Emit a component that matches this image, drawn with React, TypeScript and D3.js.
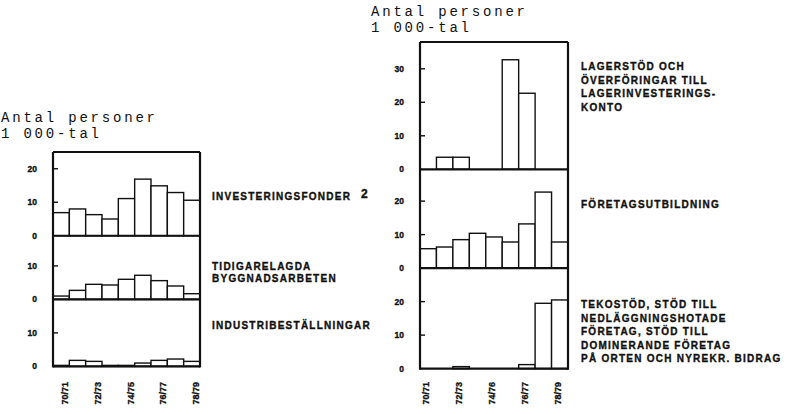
import React from 'react';
import * as d3 from 'd3';

const categories = ['70/71', '71/72', '72/73', '73/74', '74/75', '75/76', '76/77', '77/78', '78/79'];
const tickCategories = ['70/71', '72/73', '74/75', '76/77', '78/79'];
const leftTickLabels = ['70/71', '72/73', '74/75', '76/77', '78/79'];
const rightTickLabels = ['70/71', '72/73', '74/76', '76/77', '78/79'];

const investeringsfonder = [6.9, 8.0, 6.3, 5.0, 11.1, 16.9, 14.9, 12.9, 10.6];
const tidigarelagda = [1.0, 2.7, 4.5, 4.3, 6.0, 7.2, 5.6, 4.0, 1.7];
const industribestallningar = [0.3, 1.8, 1.5, 0.3, 0.3, 1.0, 1.8, 2.2, 1.5];
const lagerstod = [0, 3.6, 3.6, 0, 0, 32.7, 22.7, 0, 0];
const foretagsutbildning = [5.8, 6.3, 8.5, 10.4, 9.3, 7.8, 13.2, 22.7, 7.8];
const tekostod = [0, 0, 0.6, 0, 0, 0, 1.2, 19.5, 20.5];

const leftNames = [['INVESTERINGSFONDER'], ['TIDIGARELAGDA', 'BYGGNADSARBETEN'], ['INDUSTRIBESTÄLLNINGAR']];
const rightNames = [
  ['LAGERSTÖD OCH', 'ÖVERFÖRINGAR TILL', 'LAGERINVESTERINGS-', 'KONTO'],
  ['FÖRETAGSUTBILDNING'],
  ['TEKOSTÖD, STÖD TILL', 'NEDLÄGGNINGSHOTADE', 'FÖRETAG, STÖD TILL', 'DOMINERANDE FÖRETAG', 'PÅ ORTEN OCH NYREKR. BIDRAG'],
];
const leftTicks = [[0, 10, 20], [0, 10], [0, 10]];
const rightTicks = [[0, 10, 20, 30], [0, 10, 20], [0, 10, 20]];
const leftMax = [25, 19, 20];
const rightMax = [38, 29.5, 30];
const unitLabel = ['Antal personer', '1 000-tal'];
const footnoteMark = '2';

const K = 3.35; // px per unit
const LABEL_FONT = 'Liberation Sans, Arial, sans-serif';
const MONO = 'Liberation Mono, DejaVu Sans Mono, monospace';
const INK = '#111';

type ChartProps = {
  x0: number; x1: number; top: number;
  series: number[][]; maxes: number[]; ticks: number[][];
  names: string[][]; nameX: number; nameY: number[]; nameGap: number;
  tickLabels: string[]; labelOffset: number;
  unitX: number; unitY: number;
  sup?: boolean;
};

function Chart(p: ChartProps) {
  const x = d3.scaleBand<string>().domain(categories).range([p.x0, p.x1]).paddingInner(0).paddingOuter(0);
  let cur = p.top;
  const panels = p.maxes.map((m, i) => {
    const t = cur;
    const z = t + m * K;
    cur = z;
    const y = d3.scaleLinear().domain([0, m]).range([z, t]);
    return { y, top: t, zero: z, data: p.series[i], ticks: p.ticks[i], names: p.names[i], nameY: p.nameY[i] };
  });
  const bottom = cur;
  const bold = { fontFamily: LABEL_FONT, fontWeight: 'bold' as const, fill: INK, stroke: INK, strokeWidth: 0.35 };
  return (
    <g>
      <text x={p.unitX} y={p.unitY} fontFamily={MONO} fontSize={14} letterSpacing={2.8} fill={INK}>{unitLabel[0]}</text>
      <text x={p.unitX} y={p.unitY + 16} fontFamily={MONO} fontSize={14} letterSpacing={2.8} fill={INK}>{unitLabel[1]}</text>
      {panels.map((pn, i) => (
        <g key={i}>
          {pn.data.map((v, j) => v > 0 ? (
            <rect key={j} x={x(categories[j])!} width={x.bandwidth()} y={pn.y(v)} height={pn.zero - pn.y(v)}
              fill="white" stroke={INK} strokeWidth={1.4} />
          ) : null)}
          <line x1={p.x0} x2={p.x1} y1={pn.zero} y2={pn.zero} stroke={INK} strokeWidth={2.2} />
          {pn.ticks.map(t => (
            <g key={t}>
              {t > 0 && <line x1={p.x0} x2={p.x0 + 5} y1={pn.y(t)} y2={pn.y(t)} stroke={INK} strokeWidth={1.4} />}
              <text x={p.x0 - 16} y={pn.y(t)} dy="0.35em" textAnchor="end" fontSize={8.5} {...bold}>{t}</text>
            </g>
          ))}
          {pn.names.map((n, k) => (
            <text key={k} x={p.nameX} y={pn.nameY + k * p.nameGap} fontSize={10} letterSpacing={1.25} {...bold}>{n}</text>
          ))}
        </g>
      ))}
      <line x1={p.x0} x2={p.x1} y1={p.top} y2={p.top} stroke={INK} strokeWidth={2.2} />
      <line x1={p.x0} x2={p.x0} y1={p.top} y2={bottom + 1} stroke={INK} strokeWidth={2.2} />
      <line x1={p.x1} x2={p.x1} y1={p.top} y2={bottom + 1} stroke={INK} strokeWidth={2.2} />
      {tickCategories.map((c, i) => {
        const cx = x(c)! + x.bandwidth() / 2 + p.labelOffset;
        return (
          <text key={c} transform={`translate(${cx},382) rotate(-90)`} dy="0.35em" textAnchor="end"
            fontSize={9} {...bold}>{p.tickLabels[i]}</text>
        );
      })}
      {p.sup && (
        <text x={361} y={198} fontSize={12} {...bold}>{footnoteMark}</text>
      )}
    </g>
  );
}

export default function App() {
  return (
    <svg width={787} height={414} style={{ position: 'absolute', left: 0, top: 0, background: 'white' }}>
      <rect width={787} height={414} fill="white" />
      <Chart x0={53} x1={200} top={152}
        series={[investeringsfonder, tidigarelagda, industribestallningar]}
        maxes={leftMax} ticks={leftTicks} names={leftNames}
        nameX={212} nameY={[200, 270, 329]} nameGap={12}
        tickLabels={leftTickLabels} labelOffset={4}
        unitX={1} unitY={122} sup />
      <Chart x0={420} x1={568} top={42}
        series={[lagerstod, foretagsutbildning, tekostod]}
        maxes={rightMax} ticks={rightTicks} names={rightNames}
        nameX={581} nameY={[70, 208, 308]} nameGap={13.5}
        tickLabels={rightTickLabels} labelOffset={-2}
        unitX={371} unitY={16} />
    </svg>
  );
}
